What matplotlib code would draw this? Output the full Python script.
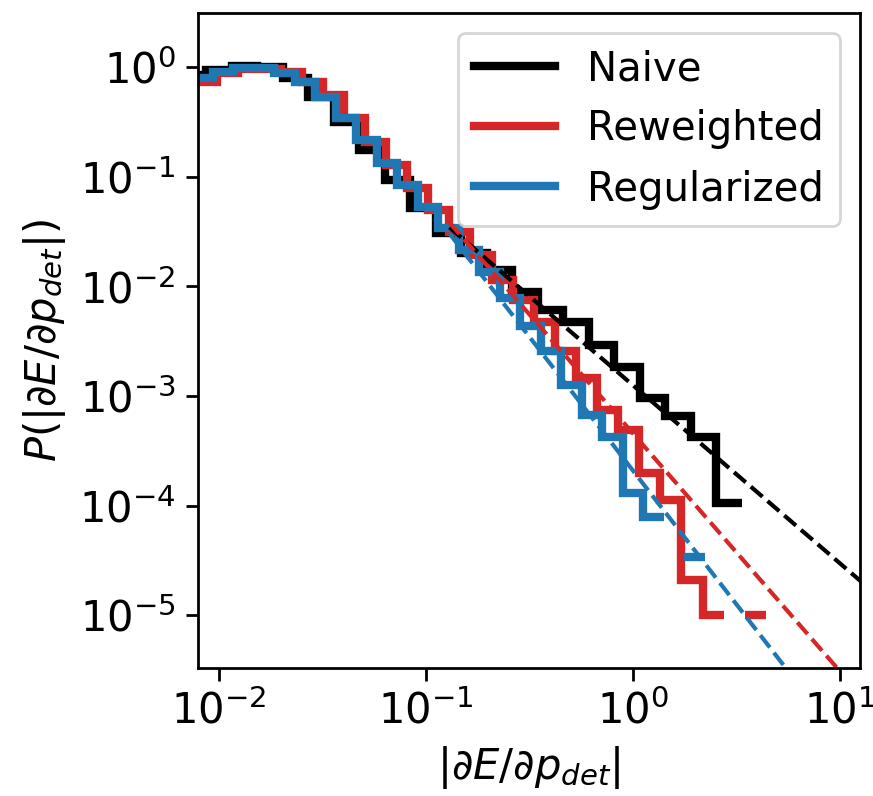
import numpy as np
import matplotlib
matplotlib.use("Agg")
import matplotlib.pyplot as plt

# histogram heights, bins are log-spaced between the given log10 limits
naive_bins = (-2.184, 0.526)
naive_vals = [0.846, 0.939, 1.02, 1.0, 0.794, 0.533, 0.315, 0.175, 0.0933, 0.0519,
              0.0307, 0.0202, 0.0141, 0.0089, 0.0061, 0.0047, 0.0029, 0.00184,
              0.00096, 0.00066, 0.00042, 0.000106]

reweighted_bins = (-2.110, 0.6425)
reweighted_vals = [0.730, 0.882, 0.959, 0.959, 0.900, 0.730, 0.556, 0.343, 0.207, 0.128,
                   0.0789, 0.0497, 0.0313, 0.0193, 0.0114, 0.0075, 0.0047, 0.0026,
                   0.00146, 0.00075, 0.00049, 0.000199, 0.000113, 2.1e-5, 1.01e-5,
                   np.nan, 1.01e-5]

regularized_bins = (-2.128, 0.348)
regularized_vals = [0.794, 0.900, 0.979, 0.979, 0.882, 0.730, 0.533, 0.343, 0.216, 0.133,
                    0.084, 0.053, 0.0341, 0.0215, 0.0135, 0.0078, 0.0044, 0.0026,
                    0.00126, 0.00067, 0.00042, 0.000131, 7.9e-5, np.nan, 3.4e-5]

# power-law fits (end points)
fit_x = [0.13, 20.0]
naive_fit = [0.0345, 9.7e-6]
reweighted_fit = [0.0382, 6.9e-7]
regularized_fit = [0.0303, 1.41e-7]

plt.rcParams['font.size'] = 15

fig = plt.figure(figsize=(873 / 200, 796 / 200), dpi=200)
ax = fig.add_axes([0.2268, 0.1608, 0.7583, 0.8229])

series = [
    ("Naive", naive_bins, naive_vals, naive_fit, "black"),
    ("Reweighted", reweighted_bins, reweighted_vals, reweighted_fit, "tab:red"),
    ("Regularized", regularized_bins, regularized_vals, regularized_fit, "tab:blue"),
]

for name, (lo, hi), vals, fit, col in series:
    edges = np.logspace(lo, hi, len(vals) + 1)
    ax.stairs(vals, edges, color=col, lw=3, label=name, baseline=None)

for name, (lo, hi), vals, fit, col in series:
    ax.plot(fit_x, fit, "--", color=col, lw=1.5)

ax.set_xscale("log")
ax.set_yscale("log")
ax.set_xlim(10 ** -2.101, 10 ** 1.097)
ax.set_ylim(3.32e-6, 3.11)
ax.minorticks_off()
ax.tick_params(length=4.5, width=1)
for s in ax.spines.values():
    s.set_linewidth(1)

ax.set_xlabel(r"$|\partial E/\partial p_{det}|$")
ax.set_ylabel(r"$P(|\partial E/\partial p_{det}|)$")
ax.legend(loc="upper right", fontsize=14.5)

fig.savefig("out.png", dpi=200)
